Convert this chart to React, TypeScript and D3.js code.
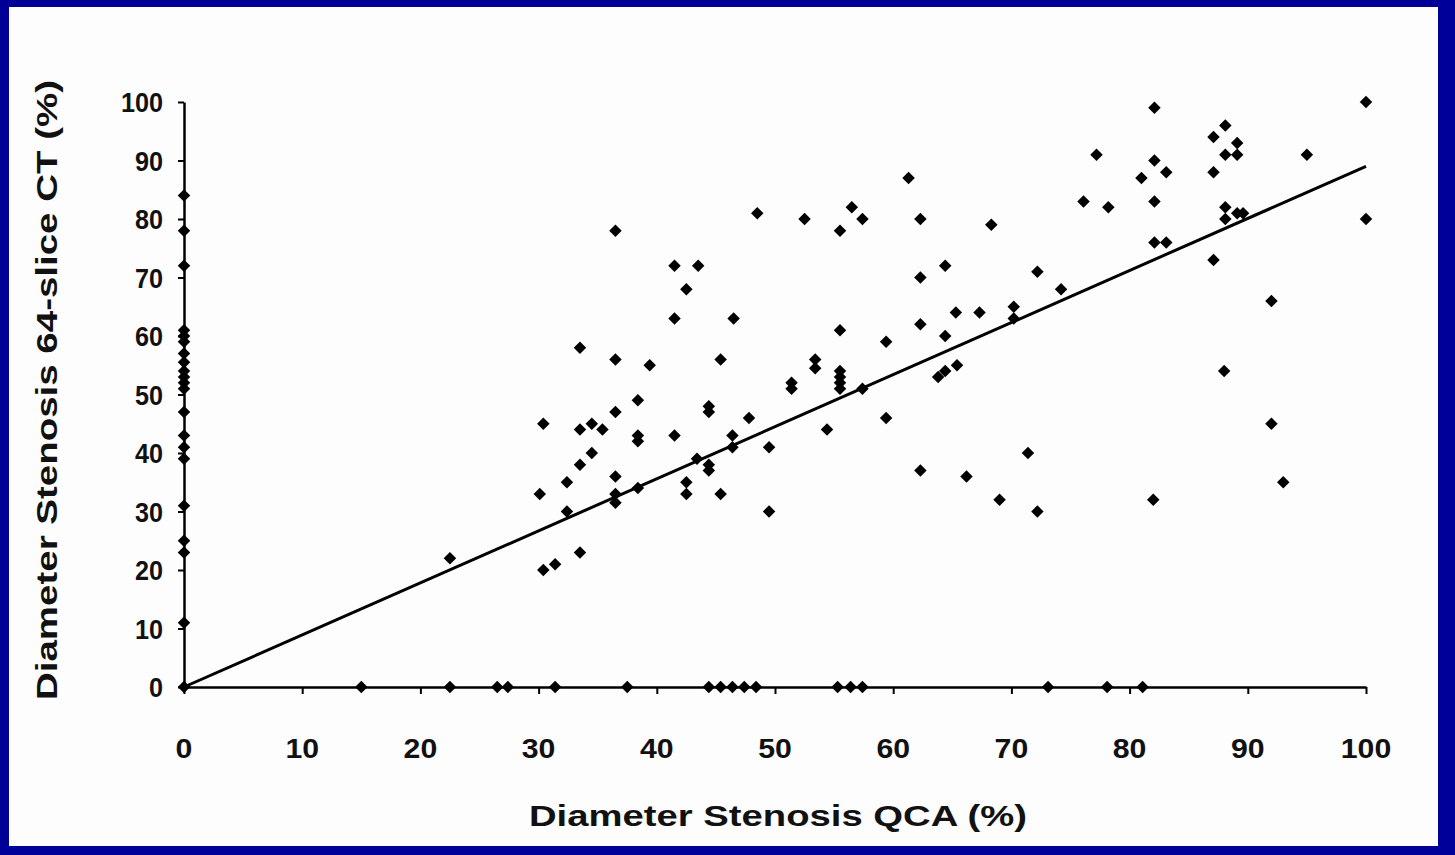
import React, { useEffect, useRef } from 'react';
import * as d3 from 'd3';

// CT values of lesions with QCA = 0 (points sitting on the y axis)
const ctAtZeroQca = [0, 11, 23, 25, 31, 39, 41, 43, 47, 51, 52, 53, 54, 55.5, 57, 59, 60, 61, 72, 78, 84];

// QCA values of lesions with CT = 0 (points sitting on the x axis)
const qcaAtZeroCt = [15, 22.5, 26.5, 27.4, 31.4, 37.5, 44.4, 45.4, 46.4, 47.4, 48.4, 55.3, 56.4, 57.4, 73.1, 78.1, 81.1];

// remaining lesions: [QCA %, CT %]
const scatter: [number, number][] = [
    [22.5, 22], [30.4, 45], [30.1, 33], [30.4, 20], [31.4, 21], [33.5, 23], [32.4, 35], [32.4, 30],
    [33.5, 38], [34.5, 40], [33.5, 44], [34.5, 45], [33.5, 58], [35.4, 44], [36.5, 78], [36.5, 56],
    [36.5, 47], [36.5, 36], [36.5, 33], [36.5, 31.5], [38.4, 49], [38.4, 43], [38.4, 42], [38.4, 34],
    [39.4, 55], [41.5, 72], [43.5, 72], [42.5, 68], [41.5, 63], [41.5, 43], [42.5, 35], [42.5, 33],
    [43.4, 39], [44.4, 48], [44.4, 47], [44.4, 38], [44.4, 37], [45.4, 56], [45.4, 33], [46.5, 63],
    [46.4, 43], [46.4, 41], [47.8, 46], [48.5, 81], [49.5, 41], [49.5, 30], [51.4, 52], [51.4, 51],
    [52.5, 80], [53.4, 56], [53.4, 54.5], [54.4, 44], [56.5, 82], [57.4, 80], [55.5, 78], [55.5, 61],
    [55.5, 54], [55.5, 53], [55.5, 52], [55.5, 51], [57.4, 51], [59.4, 59], [59.4, 46], [61.3, 87],
    [62.3, 80], [62.3, 70], [62.3, 62], [62.3, 37], [64.4, 72], [64.4, 60], [63.8, 53], [64.4, 54],
    [65.4, 55], [65.3, 64], [66.2, 36], [67.3, 64], [68.3, 79], [69, 32], [70.2, 65], [70.2, 63],
    [71.4, 40], [72.2, 71], [72.2, 30], [74.2, 68], [76.1, 83], [77.2, 91], [78.2, 82], [81, 87],
    [82.1, 99], [82.1, 90], [82.1, 83], [82.1, 76], [82, 32], [83.1, 88], [83.1, 76], [87.1, 94],
    [87.1, 88], [87.1, 73], [88.1, 96], [88.1, 91], [88.1, 82], [88.1, 80], [88, 54], [89.1, 93],
    [89.1, 91], [89.1, 81], [89.6, 81], [92, 66], [92, 45], [93, 35], [95, 91], [100, 100], [100, 80],
];

// regression line end points
const fitLine: [number, number][] = [[0, 0], [100, 89]];

const tickValues = [0, 10, 20, 30, 40, 50, 60, 70, 80, 90, 100];

const xTitle = 'Diameter Stenosis QCA (%)';
const yTitle = 'Diameter Stenosis 64-slice CT (%)';

export default function App() {
    const ref = useRef<SVGSVGElement>(null);

    useEffect(() => {
        const width = 1455,
            height = 855,
            margin = { top: 102, right: 89, bottom: 168, left: 184 },
            font = '"Liberation Sans", Arial, sans-serif',
            x = d3.scaleLinear().domain([0, 100]).range([margin.left, width - margin.right]),
            y = d3.scaleLinear().domain([0, 100]).range([height - margin.bottom, margin.top]);

        const svg = d3.select(ref.current);
        svg.selectAll('*').remove();

        // blue slide frame + white page
        svg.append('rect').attr('width', width).attr('height', height).attr('fill', '#000099');
        svg.append('rect').attr('x', 9).attr('y', 7).attr('width', 1429).attr('height', 839).attr('fill', '#fdfdfd');

        // x axis
        const gx = svg.append('g')
            .attr('transform', `translate(0,${y(0)})`)
            .call(d3.axisBottom(x).tickValues(tickValues).tickSize(7).tickSizeOuter(0).tickFormat(() => ''));
        gx.select('.domain').attr('stroke-width', 2.5);
        gx.selectAll('.tick line').attr('stroke-width', 2);

        // y axis
        const gy = svg.append('g')
            .attr('transform', `translate(${x(0)},0)`)
            .call(d3.axisLeft(y).tickValues(tickValues).tickSize(6).tickSizeOuter(0).tickFormat(() => ''));
        gy.select('.domain').attr('stroke-width', 2.5);
        gy.selectAll('.tick line').attr('stroke-width', 2);

        // tick labels
        svg.append('g').selectAll('text').data(tickValues).enter().append('text')
            .attr('transform', d => `translate(${x(d)},758) scale(1.08,1)`)
            .attr('text-anchor', 'middle')
            .attr('font-family', font).attr('font-weight', 'bold').attr('font-size', 28)
            .attr('fill', '#111')
            .text(d => d);

        svg.append('g').selectAll('text').data(tickValues).enter().append('text')
            .attr('transform', d => `translate(163,${y(d) + 10}) scale(0.9,1)`)
            .attr('text-anchor', 'end')
            .attr('font-family', font).attr('font-weight', 'bold').attr('font-size', 28)
            .attr('fill', '#111')
            .text(d => d);

        // axis titles
        svg.append('text')
            .attr('x', 529).attr('y', 826)
            .attr('textLength', 498).attr('lengthAdjust', 'spacingAndGlyphs')
            .attr('font-family', font).attr('font-weight', 'bold').attr('font-size', 29)
            .attr('fill', '#111')
            .text(xTitle);

        svg.append('text')
            .attr('transform', 'translate(57,700) rotate(-90)')
            .attr('textLength', 620).attr('lengthAdjust', 'spacingAndGlyphs')
            .attr('font-family', font).attr('font-weight', 'bold').attr('font-size', 29)
            .attr('fill', '#111')
            .text(yTitle);

        // regression line
        svg.append('path')
            .datum(fitLine)
            .attr('d', d3.line<[number, number]>().x(d => x(d[0])).y(d => y(d[1])))
            .attr('stroke', '#000').attr('stroke-width', 3).attr('fill', 'none');

        // all points
        const points: [number, number][] = [
            ...ctAtZeroQca.map(v => [0, v] as [number, number]),
            ...qcaAtZeroCt.map(v => [v, 0] as [number, number]),
            ...scatter,
        ];
        const diamond = d3.symbol().type(d3.symbolSquare).size(78);
        svg.append('g').attr('fill', '#000')
            .selectAll('path').data(points).enter().append('path')
            .attr('transform', d => `translate(${x(d[0])},${y(d[1])}) rotate(45)`)
            .attr('d', diamond);
    }, []);

    return (
        <svg ref={ref} width={1455} height={855} style={{ position: 'absolute', left: 0, top: 0, display: 'block' }} />
    );
}
